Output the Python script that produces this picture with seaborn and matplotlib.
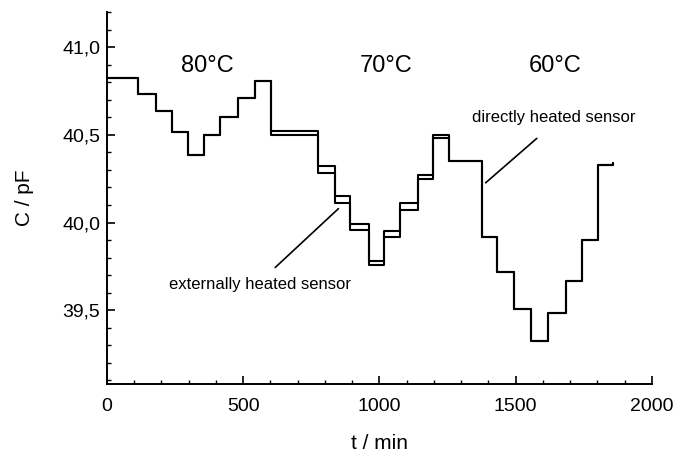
import matplotlib
matplotlib.use("Agg")
import matplotlib.pyplot as plt
import matplotlib.ticker as mticker
import seaborn as sns
import pandas as pd

# step boundaries (min) and capacitance levels (pF)
step_times = [0, 114, 180, 239, 298, 357, 415, 482, 544, 601, 776, 838, 893, 960,
              1015, 1077, 1140, 1198, 1257, 1378, 1433, 1493, 1555, 1617, 1684,
              1742, 1801, 1856]
direct_levels = [40.826, 40.731, 40.638, 40.517, 40.386, 40.500, 40.604, 40.708,
                 40.807, 40.520, 40.320, 40.150, 39.990, 39.780, 39.950, 40.110,
                 40.270, 40.500, 40.350, 39.920, 39.716, 39.506, 39.324, 39.483,
                 39.665, 39.903, 40.330, 40.340]
external_levels = [40.826, 40.731, 40.638, 40.517, 40.386, 40.500, 40.604, 40.708,
                   40.807, 40.500, 40.280, 40.110, 39.955, 39.760, 39.915, 40.070,
                   40.250, 40.480, 40.350, 39.920, 39.716, 39.506, 39.324, 39.483,
                   39.665, 39.903, 40.330, 40.340]

temp_labels = ["80°C", "70°C", "60°C"]
temp_x = [370, 1026, 1645]
temp_y = [40.89, 40.89, 40.89]

sns.set_style("ticks")
plt.rcParams["font.family"] = ["Liberation Sans", "DejaVu Sans"]
plt.rcParams["text.color"] = "black"
plt.rcParams["axes.labelcolor"] = "black"

fig = plt.figure(figsize=(6.77, 4.62), dpi=100)
ax = fig.add_axes([0.158, 0.169, 0.805, 0.805])

df = pd.concat([
    pd.DataFrame({"t": step_times, "C": direct_levels, "sensor": "direct"}),
    pd.DataFrame({"t": step_times, "C": external_levels, "sensor": "external"}),
])
sns.lineplot(data=df, x="t", y="C", units="sensor", estimator=None,
             color="black", lw=1.5, drawstyle="steps-post", ax=ax, legend=False)

ax.set_xlim(0, 2000)
ax.set_ylim(39.08, 41.2)
ax.xaxis.set_major_locator(mticker.MultipleLocator(500))
ax.xaxis.set_minor_locator(mticker.MultipleLocator(100))
ax.yaxis.set_major_locator(mticker.FixedLocator([39.5, 40.0, 40.5, 41.0]))
ax.yaxis.set_minor_locator(mticker.MultipleLocator(0.1))
ax.yaxis.set_major_formatter(mticker.FuncFormatter(lambda v, p: f"{v:.1f}".replace(".", ",")))
ax.tick_params(which="major", direction="in", length=6, width=1.2, labelsize=14,
               colors="black")
ax.tick_params(axis="x", which="major", pad=10)
ax.tick_params(axis="y", which="major", pad=5)
ax.tick_params(which="minor", direction="in", length=3, width=1.0, colors="black")
sns.despine(ax=ax)
for s in ("left", "bottom"):
    ax.spines[s].set_linewidth(1.4)
    ax.spines[s].set_color("black")

ax.set_xlabel("t / min", fontsize=15, labelpad=14)
ax.set_ylabel("C / pF", fontsize=15, labelpad=20)

for lab, x, y in zip(temp_labels, temp_x, temp_y):
    ax.text(x, y, lab, fontsize=17, ha="center", va="center", color="black")

ax.annotate("", xy=(1382, 40.216), xytext=(1585, 40.49),
            arrowprops=dict(arrowstyle="-", lw=1.2, color="black"))
ax.text(1640, 40.597, "directly heated sensor", fontsize=12, ha="center", va="center",
        color="black")
ax.annotate("", xy=(857, 40.09), xytext=(610, 39.733),
            arrowprops=dict(arrowstyle="-", lw=1.2, color="black"))
ax.text(562, 39.648, "externally heated sensor", fontsize=12, ha="center", va="center",
        color="black")

fig.savefig("out.png", dpi=100)
